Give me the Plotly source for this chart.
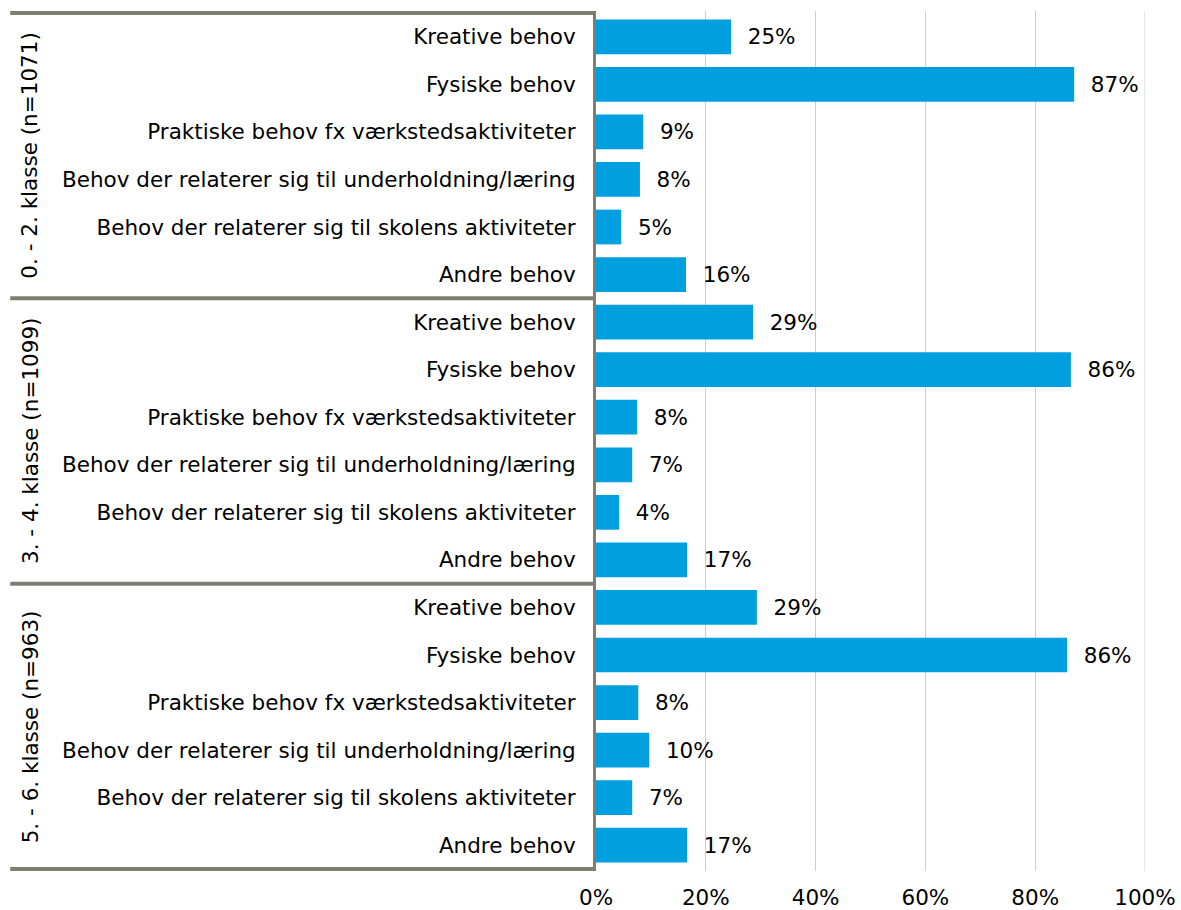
import plotly.graph_objects as go

groups = ["0. - 2. klasse (n=1071)", "3. - 4. klasse (n=1099)", "5. - 6. klasse (n=963)"]
categories = [
    "Kreative behov",
    "Fysiske behov",
    "Praktiske behov fx værkstedsaktiviteter",
    "Behov der relaterer sig til underholdning/læring",
    "Behov der relaterer sig til skolens aktiviteter",
    "Andre behov",
]
values_g1 = [24.6, 87.1, 8.6, 8.0, 4.6, 16.4]
values_g2 = [28.6, 86.5, 7.5, 6.6, 4.2, 16.6]
values_g3 = [29.3, 85.8, 7.7, 9.7, 6.6, 16.6]
x_ticks = [0, 20, 40, 60, 80, 100]

all_values = [values_g1, values_g2, values_g3]

ykeys, xs, texts, ticktext = [], [], [], []
for gi, vals in enumerate(all_values):
    for c, v in zip(categories, vals):
        ykeys.append(f"{gi}|{c}")
        xs.append(v)
        texts.append(f"  {round(v)}%")
        ticktext.append(c)

FONT = "DejaVu Sans, Verdana, sans-serif"
FS = 21.5
LINE = "#7f7f6f"

fig = go.Figure()
fig.add_trace(go.Bar(
    x=xs, y=ykeys, orientation="h",
    marker=dict(color="#009fdf", line=dict(width=0)),
    text=texts, textposition="outside", cliponaxis=False,
    textfont=dict(family=FONT, size=FS, color="#000000"),
    hoverinfo="skip",
))

n = len(categories)
for k in range(len(groups) + 1):
    yv = k * n - 0.5
    fig.add_shape(type="line", xref="paper", yref="y", x0=-1.067, x1=0.0, y0=yv, y1=yv,
                  line=dict(color=LINE, width=4))
# vertical gridline at 100%
fig.add_shape(type="line", xref="x", yref="paper", x0=100, x1=100, y0=0, y1=1,
              line=dict(color="#cccccc", width=1), layer="below")
for gi, g in enumerate(groups):
    fig.add_annotation(text=g, xref="paper", yref="y", x=-1.031, y=gi * n + (n - 1) / 2,
                       xanchor="center", yanchor="middle",
                       textangle=-90, showarrow=False,
                       font=dict(family=FONT, size=FS, color="#000000"))

fig.update_layout(
    width=1181, height=910,
    margin=dict(l=596, r=36, t=11, b=39, autoexpand=False),
    paper_bgcolor="white", plot_bgcolor="white",
    bargap=0.27, showlegend=False,
    xaxis=dict(range=[0, 100], tickvals=x_ticks, ticktext=[f"{t}%" for t in x_ticks],
               showgrid=True, gridcolor="#cccccc", gridwidth=1, zeroline=False,
               showline=False, ticks="", automargin=False, ticklabelstandoff=11,
               tickfont=dict(family=FONT, size=FS, color="#000000")),
    yaxis=dict(categoryorder="array", categoryarray=ykeys, autorange="reversed",
               tickvals=ykeys, ticktext=ticktext, showgrid=False,
               showline=True, linecolor=LINE, linewidth=3, ticks="",
               ticklabelstandoff=13, automargin=False,
               tickfont=dict(family=FONT, size=FS, color="#000000")),
)

fig.write_html("out.html", config={"displayModeBar": False},
               post_script="document.body.style.margin='0px';")
